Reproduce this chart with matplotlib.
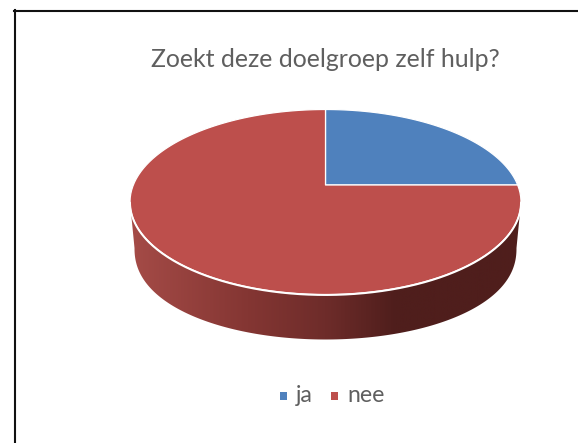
import numpy as np
import matplotlib
matplotlib.use("Agg")
import matplotlib.pyplot as plt
from matplotlib.patches import Polygon, Rectangle
from matplotlib.colors import LinearSegmentedColormap

# Survey answers: does this target group seek help itself?
categories = ["ja", "nee"]
values = [1, 3]
slice_colors = ["#4F81BD", "#BD4F4C"]
title_text = "Zoekt deze doelgroep zelf hulp?"

W, H = 578, 443
fig = plt.figure(figsize=(W / 100, H / 100), dpi=100)
ax = fig.add_axes([0, 0, 1, 1])
ax.set_xlim(0, W)
ax.set_ylim(H, 0)
ax.axis("off")

# Tilted pie: the top face is an ellipse, the apex sits above its centre
CX, CY, RX, RY = 325.5, 202, 195.5, 92.5
APEX = (325.5, 185)
DEPTH = 46


def rim_point(theta):
    """Where a ray from the apex, clockwise from 12 o'clock, meets the rim."""
    dx, dy = np.sin(theta), -np.cos(theta)
    ox, oy = (APEX[0] - CX) / RX, (APEX[1] - CY) / RY
    ux, uy = dx / RX, dy / RY
    a = ux**2 + uy**2
    b = 2 * (ox * ux + oy * uy)
    c = ox**2 + oy**2 - 1
    t = (-b + np.sqrt(b**2 - 4 * a * c)) / (2 * a)
    return APEX[0] + t * dx, APEX[1] + t * dy


# Side wall below the rim, shaded from left to right
t = np.linspace(0, np.pi, 200)
lower_x = CX + RX * np.cos(t)
lower_y = CY + RY * np.sin(t)
wall_x = CX + (RX - 4.5) * np.cos(t)
wall_y = CY + DEPTH + (RY - 1) * np.sin(t) ** 0.9
wall = Polygon(
    np.vstack([np.c_[lower_x, lower_y], np.c_[wall_x, wall_y][::-1]]),
    closed=True, facecolor="none", edgecolor="none",
)
ax.add_patch(wall)
shade = LinearSegmentedColormap.from_list(
    "wall", [(0, "#A54B47"), (0.3, "#843633"), (0.5, "#6E2C2A"), (0.68, "#4F1E1C"), (1, "#4F1E1C")]
)
img = ax.imshow(
    np.linspace(0, 1, 400)[None, :], cmap=shade, aspect="auto",
    extent=(CX - RX, CX + RX, CY + DEPTH + RY, CY), zorder=1,
)
img.set_clip_path(wall)
ax.set_xlim(0, W)
ax.set_ylim(H, 0)

# Pie slices, angles taken from the values
fractions = np.array(values, dtype=float) / sum(values)
edges = np.concatenate([[0], np.cumsum(fractions)]) * 2 * np.pi
for start, stop, color in zip(edges[:-1], edges[1:], slice_colors):
    rim = [rim_point(a) for a in np.linspace(start, stop, 240)]
    ax.add_patch(Polygon([APEX] + rim, closed=True, facecolor=color,
                         edgecolor="white", linewidth=0.9, joinstyle="round", zorder=2))

# White highlight along the front of the rim
ax.plot(lower_x, lower_y + 0.5, color="white", lw=1.4, zorder=3, solid_capstyle="round")

# Frame runs along the top and left only
ax.plot([14.5, 14.5], [H, 10], color="#111111", lw=1.5, zorder=4)
ax.plot([13.5, W], [11, 11], color="#111111", lw=1.5, zorder=4)

ax.text(325.5, 59.5, title_text, family="Lato", fontsize=17.9, color="#5F5F5F",
        ha="center", va="center")

# Legend row
for x_box, x_txt, label, color in zip([283.5, 334.5], [296, 347], categories, slice_colors):
    ax.add_patch(Rectangle((x_box - 3.75, 392), 7.5, 7.5, facecolor=color, edgecolor="none"))
    ax.text(x_txt, 396, label, family="Lato", fontsize=16.6, color="#5F5F5F",
            ha="left", va="center")

fig.savefig("out.png", dpi=100)
